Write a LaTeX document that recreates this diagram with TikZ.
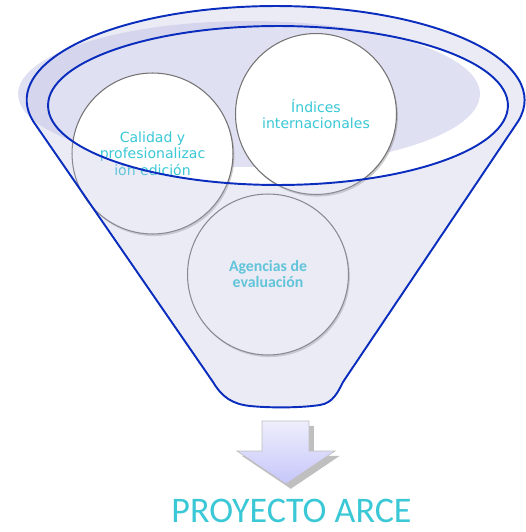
\documentclass[tikz,border=0pt]{standalone}
\usepackage{fontspec}
\setmainfont{DejaVu Sans}
\newfontfamily\titlefont{Carlito}
\usetikzlibrary{shadows}
\definecolor{arcecyan}{RGB}{58,200,214}
\definecolor{funnelblue}{RGB}{10,45,190}
\definecolor{funnelfill}{RGB}{190,190,226}
\definecolor{mouthshade}{RGB}{224,224,243}
\definecolor{bubblegray}{RGB}{115,115,115}
\definecolor{arrowtop}{RGB}{238,238,252}
\definecolor{arrowbottom}{RGB}{198,198,250}
\tikzset{
  bubble/.style={circle, minimum size=3.22cm, inner sep=0pt, fill=white,
    draw=bubblegray, line width=0.6pt, align=center, text=arcecyan,
    font=\fontsize{8}{9.3}\selectfont,
    drop shadow={shadow xshift=0.8pt, shadow yshift=-1.2pt, opacity=0.4}},
  rim/.style={draw=funnelblue, line width=1.1pt},
}
\begin{document}
\begin{tikzpicture}[x=0.02cm, y=0.02cm]
  \useasboundingbox (0,0) rectangle (526,532);
  % shade inside the mouth of the funnel
  \fill[mouthshade] (249,438) ellipse [x radius=4.62cm, y radius=1.46cm];
  % the three bubbles
  \node[bubble] (calidad) at (152.5,378.5) {Calidad y\\profesionalizac\\ión edición};
  \node[bubble] (indices) at (316,418) {Índices\\internacionales};
  \node[bubble, font=\titlefont\bfseries\fontsize{9}{9.1}\selectfont] (agencias) at (268,257.5) {Agencias de\\evaluación};
  % funnel body, open mouth
  \draw[rim, fill=funnelfill, fill opacity=0.3, even odd rule]
    (213,150) -- (33,411) arc[start angle=192.9, end angle=-12.9, x radius=4.98cm, y radius=1.88cm]
    -- (343,150) .. controls (338,140) and (333,129) .. (320,127)
    .. controls (300,124) and (270,124) .. (250,126)
    .. controls (232,128) and (222,135) .. (213,150) -- cycle
    (278,426.5) ellipse [x radius=4.6cm, y radius=1.59cm];
  % arrow down
  \shade[top color=arrowtop, bottom color=arrowbottom, draw=gray!50, drop shadow]
    (262,111) -- (309,111) -- (309,81) -- (335,81) -- (286,48) -- (237,81) -- (262,81) -- cycle;
  \node[anchor=base, inner sep=0pt, text=arcecyan, font=\titlefont\fontsize{20.5}{20.5}\selectfont] (arce) at (291.5,10) {PROYECTO ARCE};
\end{tikzpicture}
\end{document}
